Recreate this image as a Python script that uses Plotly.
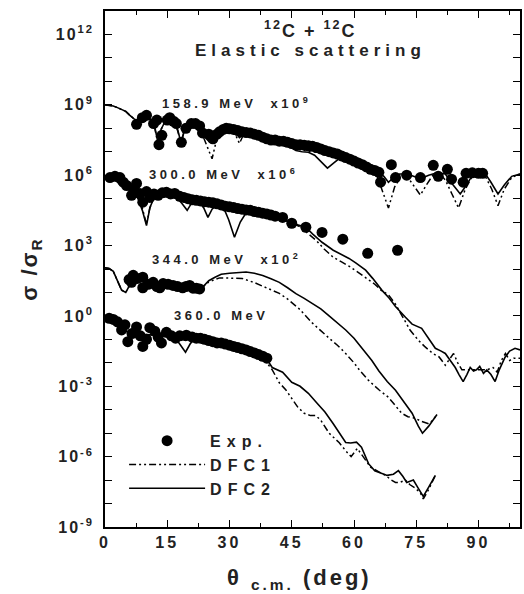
import numpy as np
import plotly.graph_objects as go

# angles in deg (c.m.), values given as log10(sigma/sigma_R), already shifted by the plot factor

# ---- 158.9 MeV (x10^9)
exp158_x = [7.6, 9.0, 10.0, 11.7, 12.5, 13.0, 13.7, 15.0, 15.6, 16.5, 17.2, 18.4, 19.5, 20.8, 21.8,
            22.8, 23.5, 25.0, 26.0, 27.0, 27.6, 28.5, 29.2, 30, 31, 32, 33, 34, 35, 36, 37, 38, 39,
            40, 41, 42, 43, 44, 45, 46, 47, 48, 49, 50, 51, 52, 53, 54, 55, 56, 57, 58, 59, 60, 61,
            62, 63, 64, 65, 66, 66.4, 69, 70, 72.7, 76, 79.1, 80.3, 82.5, 83.5, 86.3, 87, 88.5, 90, 91]
exp158_lg = [8.17, 8.45, 8.55, 8.2, 8.35, 7.3, 7.7, 8.35, 8.45, 8.3, 8.2, 7.4, 8.0, 8.2, 8.2,
             8.1, 7.8, 7.75, 7.55, 7.75, 7.85, 7.95, 8.0, 7.98, 7.95, 7.9, 7.85, 7.82, 7.8, 7.75, 7.7, 7.62, 7.55,
             7.5, 7.5, 7.45, 7.45, 7.4, 7.35, 7.3, 7.3, 7.28, 7.25, 7.23, 7.18, 7.12, 7.05, 7.0, 6.95, 6.9, 6.82, 6.75, 6.68, 6.6, 6.52,
             6.45, 6.35, 6.25, 6.2, 6.12, 5.7, 6.45, 5.9, 6.0, 5.9, 6.42, 5.95, 6.25, 5.83, 5.7, 6.08, 6.1, 6.08, 6.08]

d2_158_x = [0, 1, 2, 3, 4, 5, 6, 7, 8, 9, 10, 11, 12, 12.8, 13.5, 14.5, 15.5, 16.5, 17.5, 18.3, 19.2,
            20.2, 21.2, 22.2, 23.2, 24.2, 25.2, 26.2, 27.2, 28.2, 29.5, 30.5, 31.5, 32.4, 33.3, 34.5, 36,
            38, 40, 42, 44, 45, 46, 47.5, 49, 50.5, 52, 53.6, 55, 56.5, 58, 60, 62, 64, 66, 67.2, 68.3,
            69.5, 71, 72.5, 74, 76, 78, 80, 82, 83.8, 85.6, 87.2, 88.5, 90, 91.5, 93, 94.7, 96.3, 98, 100]
d2_158_lg = [9.0, 8.98, 8.95, 8.88, 8.8, 8.72, 8.55, 8.4, 8.3, 8.42, 8.5, 8.38, 8.05, 7.35, 7.95, 8.3, 8.38, 8.3, 7.95, 7.4, 7.95,
             8.15, 8.2, 8.12, 7.9, 7.6, 7.42, 7.55, 7.8, 7.92, 7.95, 7.9, 7.8, 7.6, 7.72, 7.75, 7.7,
             7.6, 7.5, 7.42, 7.3, 7.15, 7.05, 7.0, 6.98, 6.85, 6.6, 6.3, 6.5, 6.72, 6.72, 6.6, 6.45, 6.3, 6.12, 5.95, 5.7,
             5.9, 6.05, 6.05, 5.98, 5.85, 6.0, 6.1, 6.05, 5.6, 5.2, 5.6, 6.0, 6.18, 6.1, 5.7, 5.2, 5.6, 5.95, 6.05]

d1_158_x = [0, 1, 2, 3, 4, 5, 6, 7, 8, 9, 10, 11, 12, 12.8, 13.5, 14.5, 15.5, 16.5, 17.5, 18.3, 19.2,
            20.2, 21.2, 22.2, 23.2, 24.2, 25.8, 27, 28.2, 29.5, 30.5, 31.5, 32.4, 33.3, 34.5, 36, 38, 40,
            42, 44, 46, 48, 50, 52, 54, 56, 58, 60, 62, 64, 65.5, 66.7, 68.3, 69.8, 71.5, 73, 74.5, 76,
            77.5, 79, 80.5, 82, 83.6, 85.2, 86.8, 88.5, 90, 91.5, 93.2, 94.7, 96.2, 98, 100]
d1_158_lg = [9.0, 8.98, 8.95, 8.88, 8.8, 8.72, 8.55, 8.4, 8.3, 8.42, 8.5, 8.38, 8.0, 7.3, 7.95, 8.3, 8.38, 8.3, 7.9, 7.35, 7.95,
             8.15, 8.2, 8.1, 7.85, 7.4, 6.7, 7.6, 7.9, 7.95, 7.88, 7.7, 7.35, 7.7, 7.75, 7.7, 7.6, 7.5,
             7.42, 7.3, 7.12, 7.05, 7.0, 6.95, 6.88, 6.8, 6.72, 6.6, 6.45, 6.3, 6.0, 5.4, 4.6, 5.5, 6.0, 5.9, 5.5, 5.15,
             5.6, 6.0, 6.1, 5.8, 5.2, 4.6, 5.4, 5.95, 6.15, 6.0, 5.4, 4.7, 5.4, 5.9, 6.05]

# ---- 300.0 MeV (x10^6)
exp300_x = [1.2, 2.4, 3.6, 4.4, 5.2, 6.4, 7.0, 7.6, 8.4, 9.1, 10.0, 10.8, 11.8, 12.8, 13.8, 14.8, 15.8,
            16.8, 18, 19, 20, 21, 22, 23, 24, 25, 26, 27, 28, 29, 30, 31, 32, 33, 34, 35, 36, 37, 38,
            39, 40, 41, 42.8, 45, 48.4, 52.3, 57.3, 63.3, 70.5]
exp300_lg = [5.9, 5.95, 5.9, 5.7, 5.56, 5.14, 5.4, 5.65, 5.22, 4.85, 5.3, 5.05, 5.2, 5.14, 5.25, 5.27, 5.2,
             5.22, 5.1, 5.05, 5.0, 4.95, 4.93, 4.9, 4.87, 4.85, 4.82, 4.78, 4.73, 4.68, 4.65, 4.62, 4.58, 4.55, 4.52, 4.5, 4.45, 4.42, 4.38,
             4.35, 4.3, 4.25, 4.2, 3.95, 3.78, 3.56, 3.27, 2.67, 2.8]

d2_300_x = [0, 1, 2, 3, 4, 5, 6, 7, 8, 9, 10, 10.8, 11.8, 13, 14.5, 16, 17.5, 18.5, 19.8, 21, 22.5, 23.8,
            24.8, 25.8, 27.2, 28.5, 29.8, 31.2, 32.6, 34, 35.5, 37, 39, 41, 43, 45, 47, 48.4, 50, 52.3,
            55, 58.8, 60.5, 62.8, 64.5, 66.7, 68.5, 70, 72.4, 74, 76.3, 77.5, 79.6, 81, 82, 83.2, 84.4,
            85.3, 86.3, 87.2, 88, 88.8, 89.5, 90.3, 91.2, 92, 93, 94, 95, 96.4, 97.5, 98.8, 100]
d2_300_lg = [5.95, 5.9, 5.85, 5.7, 5.55, 5.45, 5.35, 5.2, 5.0, 4.5, 3.85, 4.6, 5.05, 5.15, 5.2, 5.15, 5.0, 4.8, 4.5, 4.85, 4.9, 4.6,
             4.2, 4.55, 4.75, 4.65, 4.1, 3.35, 4.0, 4.4, 4.45, 4.4, 4.32, 4.25, 4.1, 3.95, 3.85, 3.78, 3.5, 3.14,
             2.8, 2.45, 2.25, 1.95, 1.6, 1.1, 0.75, 0.4, -0.06, -0.35, -0.53, -0.85, -1.38, -1.5, -1.6, -1.9, -2.2,
             -2.5, -2.8, -2.5, -2.2, -2.35, -2.3, -2.15, -2.45, -2.3, -2.5, -2.8, -2.3, -1.76, -1.5, -1.38, -1.45]

d1_300_x = [0, 1, 2, 3, 4, 5, 6, 7, 8, 9, 10, 10.8, 11.8, 13, 14.5, 16, 17.5, 19, 21, 23, 25, 27, 29, 31,
            33, 35, 37, 39, 41, 43, 45, 47, 49, 51, 52.8, 55, 57, 59, 61, 63, 65, 66.5, 68.3, 70, 72,
            73.5, 75.5, 77, 79, 80.5, 82, 83, 84, 85, 86, 88, 90, 92, 93.5, 94.5, 95.5, 96.5, 97.5, 98.5, 100]
d1_300_lg = [5.95, 5.9, 5.85, 5.7, 5.55, 5.45, 5.35, 5.2, 5.0, 4.6, 3.9, 4.6, 5.05, 5.15, 5.2, 5.15, 5.05, 4.95, 4.9, 4.85, 4.8, 4.75, 4.68, 4.55,
             4.5, 4.45, 4.4, 4.32, 4.25, 4.1, 3.95, 3.8, 3.5, 3.2, 2.85, 2.5, 2.3, 2.1, 1.86, 1.6, 1.35, 1.1, 0.9, 0.5, -0.1,
             -0.6, -1.04, -1.3, -1.6, -1.75, -2.1, -1.85, -1.6, -2.0, -2.3, -2.3, -2.3, -2.3, -2.2, -2.4, -1.9, -1.6, -1.9, -1.8, -1.8]

# ---- 344.0 MeV (x10^2)
exp344_x = [5.8, 6.4, 6.8, 7.8, 9.1, 9.1, 10.4, 11.6, 12.5, 13.2, 14.0, 15.2, 16.4, 17.5, 18.7, 19.5, 20.4, 21.2, 22.0, 22.8]
exp344_lg = [1.55, 1.43, 1.73, 1.6, 1.65, 1.2, 1.35, 1.43, 1.25, 1.2, 1.38, 1.35, 1.3, 1.25, 1.2, 1.25, 1.3, 1.18, 1.18, 1.15]

d2_344_x = [0, 1, 2, 3, 4, 5, 6, 7, 8, 9, 10, 12, 14, 16, 18, 20, 22, 23.5, 25, 26.5, 28, 30, 32, 34, 36,
            38, 40, 42, 44, 46, 48, 50, 52, 54, 56, 58, 60, 62, 64.3, 66, 68, 70, 72, 74, 75.5, 76.5, 78, 80]
d2_344_lg = [2.05, 2.02, 1.9, 1.5, 1.1, 1.0, 1.35, 1.65, 1.75, 1.65, 1.5, 1.45, 1.35, 1.3, 1.25, 1.2, 1.18, 1.22, 1.5, 1.65, 1.78, 1.82, 1.86, 1.87, 1.82,
             1.72, 1.58, 1.43, 1.2, 0.95, 0.75, 0.54, 0.3, 0.0, -0.3, -0.6, -0.95, -1.4, -1.9, -2.35, -2.8, -3.17, -3.65, -4.15, -4.7, -5.0, -4.7, -4.2]

d1_344_x = [0, 1, 2, 3, 4, 5, 6, 7, 8, 9, 10, 12, 14, 16, 18, 20, 22, 23.5, 25, 27.6, 30, 33, 36, 38.8,
            42, 44, 46.8, 50, 52, 54, 56, 58, 60, 61.5, 63.5, 66, 68.3, 70, 71.5, 73, 74.5, 76.3, 78, 79, 80]
d1_344_lg = [2.05, 2.02, 1.9, 1.5, 1.1, 1.0, 1.35, 1.65, 1.75, 1.65, 1.5, 1.45, 1.35, 1.3, 1.25, 1.2, 1.18, 1.22, 1.45, 1.62, 1.62, 1.6, 1.42, 1.22,
             0.96, 0.72, 0.3, -0.31, -0.65, -0.95, -1.25, -1.6, -2.0, -2.35, -2.75, -3.15, -3.47, -3.85, -4.15, -4.3, -4.35, -4.5, -4.6, -4.45, -4.2]

# ---- 360.0 MeV (x1)
exp360_x = [1, 2, 3, 4, 4.8, 5.5, 6.5, 7.6, 8.5, 9.1, 10, 10.8, 12, 12.8, 13.6, 14.8, 16, 17, 18, 19.6,
            21, 22, 23, 24, 25, 26, 27, 28, 29, 30, 31, 32, 33, 34, 35, 36, 37, 38, 39]
exp360_lg = [-0.1, -0.15, -0.25, -0.6, -0.38, -1.1, -0.75, -0.47, -0.85, -1.3, -1.0, -0.5, -0.65, -0.9, -1.15, -0.7, -0.85, -0.95, -0.85, -0.82,
             -0.9, -0.95, -0.95, -1.0, -1.05, -1.1, -1.15, -1.15, -1.2, -1.25, -1.3, -1.35, -1.4, -1.45, -1.52, -1.58, -1.65, -1.72, -1.8]

d2_360_x = [0, 1, 2, 3, 4, 5, 6, 7, 8, 9, 10, 11, 12, 13, 14, 15, 16, 17, 18, 19.4, 20.5, 21.5, 23, 25, 27,
            29, 31, 33, 35, 37, 39, 40.3, 42.8, 45, 47, 49, 51, 53, 55, 56.4, 58, 59.2, 60.6, 61.8, 63.5,
            65, 66.5, 68, 69.5, 70.7, 71.8, 72.7, 73.5, 74.3, 75.5, 76.7, 78, 79.6]
d2_360_lg = [-0.15, -0.2, -0.3, -0.42, -0.55, -0.65, -0.7, -0.75, -0.8, -0.82, -0.8, -0.8, -0.82, -0.85, -0.85, -0.88, -0.9, -0.95, -1.2, -1.55, -1.2, -0.98, -0.98, -1.05, -1.12,
             -1.2, -1.28, -1.38, -1.5, -1.62, -1.85, -2.2, -2.4, -2.83, -3.0, -3.3, -3.7, -4.1, -4.6, -5.0, -5.4, -5.42, -5.38, -5.6, -6.3,
             -6.6, -6.7, -6.8, -6.75, -6.6, -6.85, -7.1, -7.05, -7.0, -7.35, -7.7, -7.3, -6.8]

d1_360_x = [0, 1, 2, 3, 4, 5, 6, 7, 8, 9, 10, 11, 12, 13, 14, 15, 16, 17, 18, 19.4, 20.5, 21.5, 23, 25, 27,
            29, 31, 33, 35, 37, 38, 39, 40.3, 42, 43.6, 45, 46.5, 48, 49.5, 50.8, 52, 54, 56.4, 58, 59.3,
            60.8, 62, 64, 66, 67.6, 69, 70, 71, 72.4, 73.5, 74.8, 76, 76.7, 78, 79.6]
d1_360_lg = [-0.15, -0.2, -0.3, -0.42, -0.55, -0.65, -0.7, -0.75, -0.8, -0.82, -0.8, -0.8, -0.82, -0.85, -0.85, -0.88, -0.9, -0.95, -1.0, -1.05, -1.0, -0.98, -0.98, -1.05, -1.12,
             -1.2, -1.28, -1.38, -1.5, -1.62, -1.72, -2.0, -2.3, -2.85, -3.16, -3.5, -3.9, -4.15, -4.25, -4.25, -4.45, -5.0, -5.4, -5.75, -6.0,
             -5.65, -5.95, -6.45, -6.65, -6.8, -7.0, -7.1, -7.1, -7.0, -7.2, -7.35, -7.55, -7.8, -7.4, -6.8]

curve_labels = ["158.9 MeV  x10<sup>9</sup>", "300.0 MeV  x10<sup>6</sup>",
                "344.0 MeV  x10<sup>2</sup>", "360.0 MeV"]
label_x = [13.2, 10.1, 10.8, 16.1]
label_lg = [9.06, 6.03, 2.41, 0.0]

x_ticks = [0, 15, 30, 45, 60, 75, 90]
y_major = [-9, -6, -3, 0, 3, 6, 9, 12]
y_decades = list(range(-9, 14))


def sp(txt, ls):
    return '<span style="letter-spacing:%spx">%s</span>' % (ls, txt)


FONT = "Liberation Sans, Arial, sans-serif"
DASH1 = "7px,3px,2px,3px,2px,3px"

fig = go.Figure()

series = [
    (exp158_x, exp158_lg, d1_158_x, d1_158_lg, d2_158_x, d2_158_lg),
    (exp300_x, exp300_lg, d1_300_x, d1_300_lg, d2_300_x, d2_300_lg),
    (exp344_x, exp344_lg, d1_344_x, d1_344_lg, d2_344_x, d2_344_lg),
    (exp360_x, exp360_lg, d1_360_x, d1_360_lg, d2_360_x, d2_360_lg),
]

for i, (ex, ey, ax, ay, bx, by) in enumerate(series):
    first = i == 0
    fig.add_trace(go.Scatter(x=ax, y=np.power(10.0, ay), mode="lines",
                             line=dict(color="black", width=1.5, dash=DASH1),
                             name=sp("DFC1", 6), legendgroup="d1", showlegend=first,
                             legendrank=2))
    fig.add_trace(go.Scatter(x=bx, y=np.power(10.0, by), mode="lines",
                             line=dict(color="black", width=1.6),
                             name=sp("DFC2", 6), legendgroup="d2", showlegend=first,
                             legendrank=3))
    fig.add_trace(go.Scatter(x=ex, y=np.power(10.0, ey), mode="markers",
                             marker=dict(color="black", size=11, symbol="circle"),
                             name=sp("Exp.", 6), legendgroup="exp", showlegend=first,
                             legendrank=1))

# curve labels
for t, lx, ly in zip(curve_labels, label_x, label_lg):
    fig.add_annotation(x=lx, y=ly, text="<b>" + sp(t, 3.5) + "</b>", showarrow=False,
                       xanchor="left", yanchor="middle",
                       font=dict(family=FONT, size=13, color="#222"))

fig.add_annotation(x=49.6, y=12.2, text="<b>" + sp("<sup>12</sup>C + <sup>12</sup>C", 2) + "</b>",
                   showarrow=False, xanchor="center", yanchor="middle",
                   font=dict(family=FONT, size=18, color="#222"))
fig.add_annotation(x=49.6, y=11.3, text="<b>" + sp("Elastic scattering", 5) + "</b>",
                   showarrow=False, xanchor="center", yanchor="middle",
                   font=dict(family=FONT, size=17, color="#222"))

# x axis title (placed by hand, it sits a little left of centre in the original)
fig.add_annotation(xref="paper", yref="paper", x=0.468, y=-0.1,
                   text="<b>" + sp("θ <sub>c.m.</sub> (deg)", 3) + "</b>",
                   showarrow=False, xanchor="center", yanchor="middle",
                   font=dict(family=FONT, size=22, color="#222"))

fig.update_layout(
    width=524, height=594,
    margin=dict(l=105, r=2, t=11, b=67),
    plot_bgcolor="white", paper_bgcolor="white",
    font=dict(family=FONT, color="#222"),
    legend=dict(x=0.046, y=0.2, xanchor="left", yanchor="top",
                bgcolor="rgba(0,0,0,0)", font=dict(family=FONT, size=16, color="#222", weight="bold"),
                itemwidth=76, tracegroupgap=0, traceorder="normal"),
)

fig.update_xaxes(
    range=[0, 100], showgrid=False, zeroline=False,
    showline=True, linecolor="black", linewidth=1.5, mirror="ticks",
    ticks="inside", ticklen=7, tickwidth=1.2, tickcolor="black",
    tickvals=x_ticks,
    ticktext=["<b>" + sp(str(v), 3) + "</b>" for v in x_ticks],
    tickfont=dict(family=FONT, size=16, color="#222"),
    minor=dict(ticks="inside", ticklen=4, tickwidth=1, tickcolor="black", tick0=7.5, dtick=15),
)

fig.update_yaxes(
    type="log", range=[-9, 13], showgrid=False, zeroline=False,
    showline=True, linecolor="black", linewidth=1.5, mirror="ticks",
    ticks="inside", ticklen=7, tickwidth=1.2, tickcolor="black",
    tickvals=[10.0 ** d for d in y_major],
    ticktext=["<b>" + sp("10<sup>%d</sup>" % d, 2) + "</b>" for d in y_major],
    tickfont=dict(family=FONT, size=16, color="#222"),
    ticklabelstandoff=6,
    minor=dict(ticks="inside", ticklen=7, tickwidth=1.2, tickcolor="black",
               tickvals=[10.0 ** d for d in y_decades]),
    title=dict(text="<b>" + sp("σ /σ<sub>R</sub>", 2) + "</b>",
               font=dict(family=FONT, size=22, color="#222"), standoff=12),
)

fig.write_html("out.html", config={"displayModeBar": False},
               post_script="document.body.style.margin='0px';")
